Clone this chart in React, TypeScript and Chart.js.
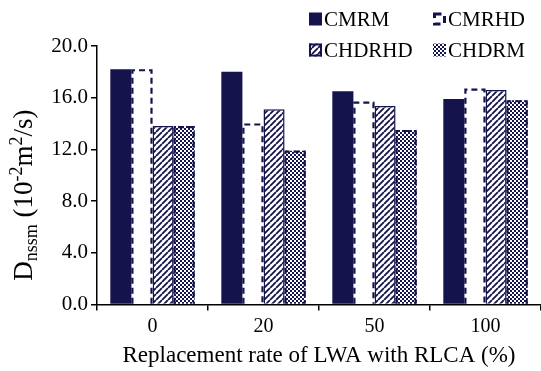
import React, { useEffect, useRef } from "react";
import { Chart, registerables } from "chart.js";

Chart.register(...registerables);

const categories = ["0", "20", "50", "100"];
const seriesNames = ["CMRM", "CMRHD", "CHDRHD", "CHDRM"];
const cmrmValues = [18.2, 18.0, 16.5, 15.9];
const cmrhdValues = [18.2, 14.0, 15.7, 16.7];
const chdrhdValues = [13.8, 15.1, 15.35, 16.6];
const chdrmValues = [13.8, 11.9, 13.5, 15.8];
const yTickValues = [0, 4, 8, 12, 16, 20];
const xTitle = "Replacement rate of LWA with RLCA (%)";

const NAVY = "#14134b";
const FONT = "'Liberation Serif', 'Times New Roman', serif";

function makeHatch(): CanvasPattern | string {
  const c = document.createElement("canvas");
  c.width = 6;
  c.height = 6;
  const g = c.getContext("2d");
  if (!g) return NAVY;
  g.fillStyle = "#ffffff";
  g.fillRect(0, 0, 6, 6);
  g.strokeStyle = NAVY;
  g.lineWidth = 1.8;
  g.beginPath();
  for (let k = -1; k <= 1; k++) {
    g.moveTo(k * 6, 6);
    g.lineTo(k * 6 + 6, 0);
  }
  g.stroke();
  return g.createPattern(c, "repeat") || NAVY;
}

function makeChecker(): CanvasPattern | string {
  const c = document.createElement("canvas");
  c.width = 4;
  c.height = 4;
  const g = c.getContext("2d");
  if (!g) return NAVY;
  g.fillStyle = "#ffffff";
  g.fillRect(0, 0, 4, 4);
  g.fillStyle = NAVY;
  g.fillRect(0, 0, 2, 2);
  g.fillRect(2, 2, 2, 2);
  return g.createPattern(c, "repeat") || NAVY;
}

const dashedOutline = {
  id: "dashedOutline",
  afterDatasetsDraw(chart: any) {
    const ctx = chart.ctx;
    chart.data.datasets.forEach((ds: any, i: number) => {
      if (!ds.dashOutline) return;
      const meta = chart.getDatasetMeta(i);
      meta.data.forEach((el: any) => {
        const { x, y, base, width } = el.getProps(["x", "y", "base", "width"], true);
        const l = x - width / 2 + 1;
        const r = x + width / 2 - 1;
        ctx.save();
        ctx.strokeStyle = NAVY;
        ctx.lineWidth = 2.2;
        ctx.setLineDash([6, 4]);
        ctx.beginPath();
        ctx.moveTo(l, base);
        ctx.lineTo(l, y + 1);
        ctx.lineTo(r, y + 1);
        ctx.lineTo(r, base);
        ctx.stroke();
        ctx.restore();
      });
    });
  },
};

const customLegend = {
  id: "customLegend",
  afterDraw(chart: any) {
    const ctx = chart.ctx;
    const cols = [309, 433];
    const rows = [19, 50];
    const box = 13;
    chart.data.datasets.forEach((ds: any, i: number) => {
      const bx = cols[i % 2];
      const cy = rows[Math.floor(i / 2)];
      const by = cy - box / 2;
      ctx.save();
      if (ds.legendKind === "solid") {
        ctx.fillStyle = NAVY;
        ctx.fillRect(bx, by, box, box);
      } else if (ds.legendKind === "dashed") {
        ctx.strokeStyle = NAVY;
        ctx.lineWidth = 3;
        ctx.setLineDash([7, 5]);
        ctx.strokeRect(bx + 1.5, by + 1.5, box - 3, box - 3);
      } else if (ds.legendKind === "hatch") {
        ctx.fillStyle = ds.backgroundColor;
        ctx.fillRect(bx, by, box, box);
        ctx.strokeStyle = NAVY;
        ctx.lineWidth = 2;
        ctx.strokeRect(bx + 1, by + 1, box - 2, box - 2);
      } else {
        ctx.fillStyle = ds.backgroundColor;
        ctx.fillRect(bx, by, box, box);
      }
      ctx.restore();
      ctx.save();
      ctx.fillStyle = "#000";
      ctx.font = `21px ${FONT}`;
      ctx.textBaseline = "middle";
      ctx.textAlign = "left";
      ctx.fillText(ds.label, bx + box + 2, cy + 1);
      ctx.restore();
    });
  },
};

const yTitleParts = [
  { text: "D", kind: "n" },
  { text: "nssm", kind: "sub" },
  { text: " (10", kind: "n" },
  { text: "-2", kind: "sup" },
  { text: "m", kind: "n" },
  { text: "2", kind: "sup" },
  { text: "/s)", kind: "n" },
];

const yTitlePlugin = {
  id: "yTitle",
  afterDraw(chart: any) {
    const ctx = chart.ctx;
    const base = 27;
    const small = 18;
    const area = chart.chartArea;
    ctx.save();
    let total = 0;
    yTitleParts.forEach((p) => {
      ctx.font = `${p.kind === "n" ? base : small}px ${FONT}`;
      total += ctx.measureText(p.text).width;
    });
    const cx = 32;
    const cy = (area.top + area.bottom) / 2 + 20;
    ctx.translate(cx, cy);
    ctx.rotate(-Math.PI / 2);
    ctx.fillStyle = "#000";
    ctx.textBaseline = "alphabetic";
    ctx.textAlign = "left";
    let x = -total / 2;
    yTitleParts.forEach((p) => {
      ctx.font = `${p.kind === "n" ? base : small}px ${FONT}`;
      const dy = p.kind === "sub" ? 5 : p.kind === "sup" ? -10 : 0;
      ctx.fillText(p.text, x, dy);
      x += ctx.measureText(p.text).width;
    });
    ctx.restore();
  },
};

export default function App() {
  const ref = useRef<HTMLCanvasElement | null>(null);
  useEffect(() => {
    document.body.style.margin = "0";
    if (!ref.current) return;
    const hatch = makeHatch();
    const checker = makeChecker();
    const chart = new Chart(ref.current, {
      type: "bar",
      data: {
        labels: categories,
        datasets: [
          {
            label: seriesNames[0],
            data: cmrmValues,
            backgroundColor: NAVY,
            borderWidth: 0,
            legendKind: "solid",
          } as any,
          {
            label: seriesNames[1],
            data: cmrhdValues,
            backgroundColor: "#ffffff",
            borderWidth: 0,
            dashOutline: true,
            legendKind: "dashed",
          } as any,
          {
            label: seriesNames[2],
            data: chdrhdValues,
            backgroundColor: hatch,
            borderColor: NAVY,
            borderWidth: 1.5,
            legendKind: "hatch",
          } as any,
          {
            label: seriesNames[3],
            data: chdrmValues,
            backgroundColor: checker,
            borderWidth: 0,
            dashOutline: true,
            legendKind: "checker",
          } as any,
        ],
      },
      options: {
        animation: false,
        responsive: true,
        maintainAspectRatio: false,
        layout: { padding: { top: 46, right: 0, left: 0, bottom: 1 } },
        datasets: {
          bar: { categoryPercentage: 0.76, barPercentage: 1 },
        },
        plugins: {
          legend: { display: false },
          tooltip: { enabled: false },
        },
        scales: {
          x: {
            z: 1,
            grid: {
              drawOnChartArea: false,
              drawTicks: true,
              tickLength: 6,
              color: "#000",
              lineWidth: 1.5,
              offset: true,
            },
            border: { color: "#000", width: 1.5 },
            ticks: {
              color: "#000",
              font: { family: FONT, size: 20 },
              padding: 4,
            },
            title: {
              display: true,
              text: xTitle,
              color: "#000",
              font: { family: FONT, size: 23 },
              padding: { top: 0, bottom: 0 },
            },
          },
          y: {
            z: 1,
            min: 0,
            max: 20,
            afterBuildTicks: (scale: any) => {
              scale.ticks = yTickValues.map((v) => ({ value: v }));
            },
            afterFit: (scale: any) => {
              scale.width = 97;
            },
            grid: {
              drawOnChartArea: false,
              drawTicks: true,
              tickLength: 6,
              color: "#000",
              lineWidth: 1.5,
            },
            border: { color: "#000", width: 1.5 },
            ticks: {
              color: "#000",
              font: { family: FONT, size: 21 },
              padding: 3,
              callback: (v: any) => Number(v).toFixed(1),
            },
            title: { display: false },
          },
        },
      },
      plugins: [dashedOutline, customLegend, yTitlePlugin],
    } as any);
    return () => chart.destroy();
  }, []);
  return (
    <div style={{ width: 541, height: 371, position: "relative" }}>
      <canvas ref={ref} />
    </div>
  );
}
